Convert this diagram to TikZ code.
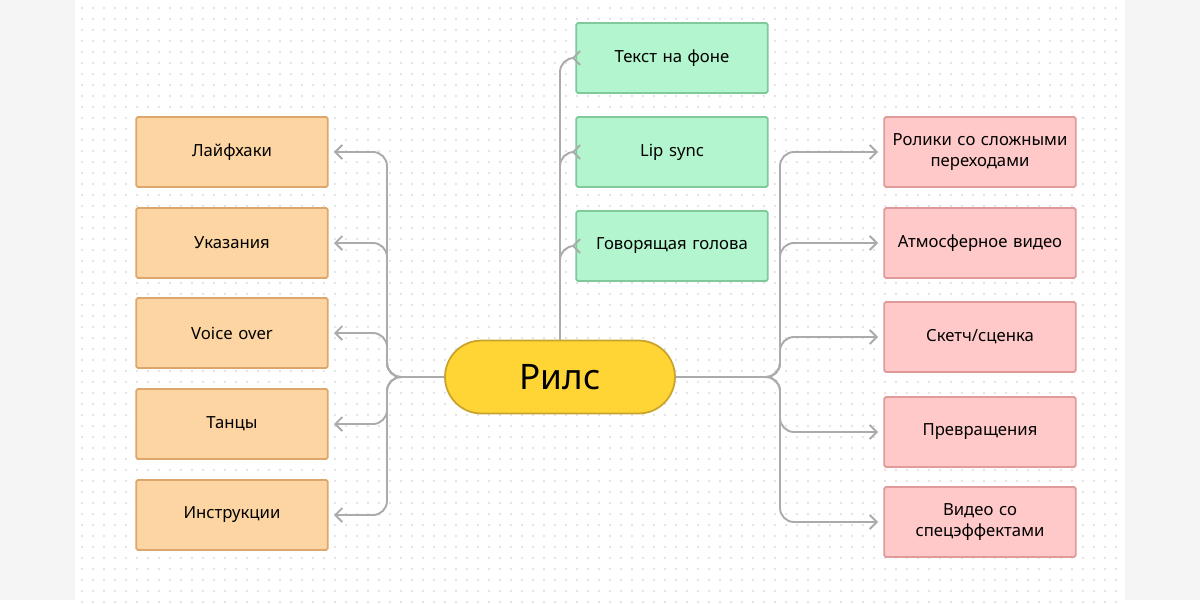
\documentclass[tikz,border=0pt]{standalone}
\usepackage{fontspec}
\setmainfont{Noto Sans}
\usetikzlibrary{arrows.meta}
\definecolor{orangefill}{HTML}{FCD5A2}
\definecolor{orangeline}{HTML}{DDA66A}
\definecolor{greenfill}{HTML}{B3F5CE}
\definecolor{greenline}{HTML}{7FC99A}
\definecolor{pinkfill}{HTML}{FFC9C9}
\definecolor{pinkline}{HTML}{E09A9A}
\definecolor{yellowfill}{HTML}{FFD535}
\definecolor{yellowline}{HTML}{C9A32B}
\definecolor{connline}{HTML}{ABABAB}
\definecolor{dotcol}{HTML}{DCDCDC}

\begin{document}
\begin{tikzpicture}[x=0.02cm,y=-0.02cm,
  box/.style={rectangle,draw,line width=1pt,minimum width=3.8cm,minimum height=1.4cm,
    text width=3.6cm,align=center,font=\fontsize{9.5}{11.5}\selectfont,rounded corners=1pt},
  leftbox/.style={box,fill=orangefill,draw=orangeline},
  topbox/.style={box,fill=greenfill,draw=greenline},
  rightbox/.style={box,fill=pinkfill,draw=pinkline},
  conn/.style={draw=connline,line width=1.1pt,rounded corners=8pt,-{Straight Barb[length=4pt,width=8pt]}}]
\fill [black!4] (0,0) rectangle (1200,600);
\fill [white] (75,0) rectangle (1125,600);
\foreach \i in {0,...,94} \foreach \j in {0,...,54}
  \fill [dotcol] (82+\i*11,8+\j*11) circle (0.6pt);
\node (rils) at (560,377) [draw=yellowline,fill=yellowfill,line width=1pt,rounded corners=0.73cm,
  minimum width=4.6cm,minimum height=1.46cm,font=\fontsize{20}{24}\selectfont] {Рилс};
\node (l1) at (232,152) [leftbox] {Лайфхаки};
\node (l2) at (232,243) [leftbox] {Указания};
\node (l3) at (232,333) [leftbox] {Voice over};
\node (l4) at (232,424) [leftbox] {Танцы};
\node (l5) at (232,515) [leftbox] {Инструкции};
\node (t1) at (672,58)  [topbox] {Текст на фоне};
\node (t2) at (672,152) [topbox] {Lip sync};
\node (t3) at (672,246) [topbox] {Говорящая голова};
\node (r1) at (980,152) [rightbox] {Ролики со сложными переходами};
\node (r2) at (980,243) [rightbox] {Атмосферное видео};
\node (r3) at (980,337) [rightbox] {Скетч/сценка};
\node (r4) at (980,432) [rightbox] {Превращения};
\node (r5) at (980,522) [rightbox] {Видео со спецэффектами};
\coordinate (ljoin) at (387,377);
\coordinate (rjoin) at (780,377);
\foreach \n in {l1,l2,l3,l4,l5}
  \draw [conn] (rils.west) -- (ljoin) |- ([xshift=3pt]\n.east);
\foreach \n in {r1,r2,r3,r4,r5}
  \draw [conn] (rils.east) -- (rjoin) |- ([xshift=-3pt]\n.west);
\foreach \n in {t1,t2,t3}
  \draw [conn] (rils.north) |- ([xshift=-2pt]\n.west);
\end{tikzpicture}
\end{document}
